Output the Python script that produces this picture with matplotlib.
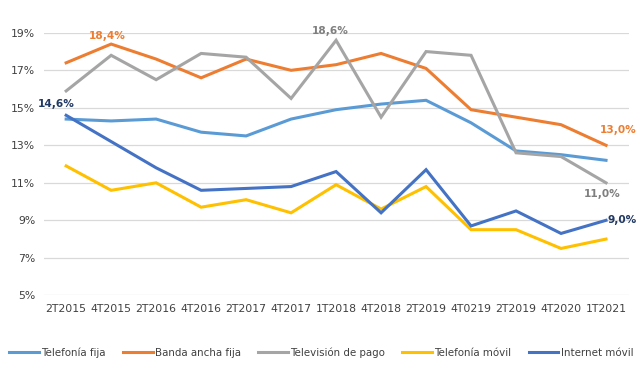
import matplotlib.pyplot as plt
from matplotlib.ticker import FuncFormatter

periods = ['2T2015', '4T2015', '2T2016', '4T2016', '2T2017', '4T2017', '1T2018',
           '4T2018', '2T2019', '4T0219', '2T2019', '4T2020', '1T2021']

telefonia_fija = [14.4, 14.3, 14.4, 13.7, 13.5, 14.4, 14.9, 15.2, 15.4, 14.2, 12.7, 12.5, 12.2]
banda_ancha = [17.4, 18.4, 17.6, 16.6, 17.6, 17.0, 17.3, 17.9, 17.1, 14.9, 14.5, 14.1, 13.0]
television = [15.9, 17.8, 16.5, 17.9, 17.7, 15.5, 18.6, 14.5, 18.0, 17.8, 12.6, 12.4, 11.0]
telefonia_movil = [11.9, 10.6, 11.0, 9.7, 10.1, 9.4, 10.9, 9.6, 10.8, 8.5, 8.5, 7.5, 8.0]
internet_movil = [14.6, 13.2, 11.8, 10.6, 10.7, 10.8, 11.6, 9.4, 11.7, 8.7, 9.5, 8.3, 9.0]

series = [
    ('Telefonía fija', telefonia_fija, '#5B9BD5'),
    ('Banda ancha fija', banda_ancha, '#ED7D31'),
    ('Televisión de pago', television, '#A5A5A5'),
    ('Telefonía móvil', telefonia_movil, '#FFC000'),
    ('Internet móvil', internet_movil, '#4472C4'),
]

fig = plt.figure(figsize=(6.42, 3.75), dpi=100)
ax = fig.add_axes([0.068, 0.2125, 0.911, 0.7])

x = list(range(len(periods)))
for name, vals, col in series:
    ax.plot(x, vals, color=col, lw=2.2, label=name, solid_joinstyle='miter')

ax.set_xlim(-0.5, len(periods) - 0.5)
ax.set_ylim(5, 19)
ax.set_yticks(range(5, 20, 2))
ax.yaxis.set_major_formatter(FuncFormatter(lambda v, p: '%d%%' % v))
ax.set_xticks(x)
ax.set_xticklabels(periods)
ax.grid(axis='y', color='#D9D9D9', lw=0.9)
ax.set_axisbelow(True)
for s in ax.spines.values():
    s.set_visible(False)
ax.tick_params(length=0, labelsize=7.8, colors='#404040', pad=6)


def lbl(i, vals, col, dx, dy, ha='center'):
    ax.annotate(('%.1f%%' % vals[i]).replace('.', ','), (i, vals[i]),
                xytext=(dx, dy), textcoords='offset points', ha=ha, va='center',
                color=col, fontsize=7.6, fontweight='bold')


lbl(0, internet_movil, '#1F3864', -7, 8)
lbl(1, banda_ancha, '#ED7D31', -3, 6)
lbl(6, television, '#7F7F7F', -4, 7)
lbl(12, banda_ancha, '#ED7D31', 9, 11)
lbl(12, television, '#7F7F7F', -3, -8)
lbl(12, internet_movil, '#1F3864', 1, 0, ha='left')

fig.legend(loc='center', bbox_to_anchor=(0.5, 0.06), ncol=5, frameon=False,
           fontsize=7.4, handlelength=2.9, handletextpad=0.2, columnspacing=1.7,
           labelcolor='#404040')

fig.savefig('out.png', dpi=100)
